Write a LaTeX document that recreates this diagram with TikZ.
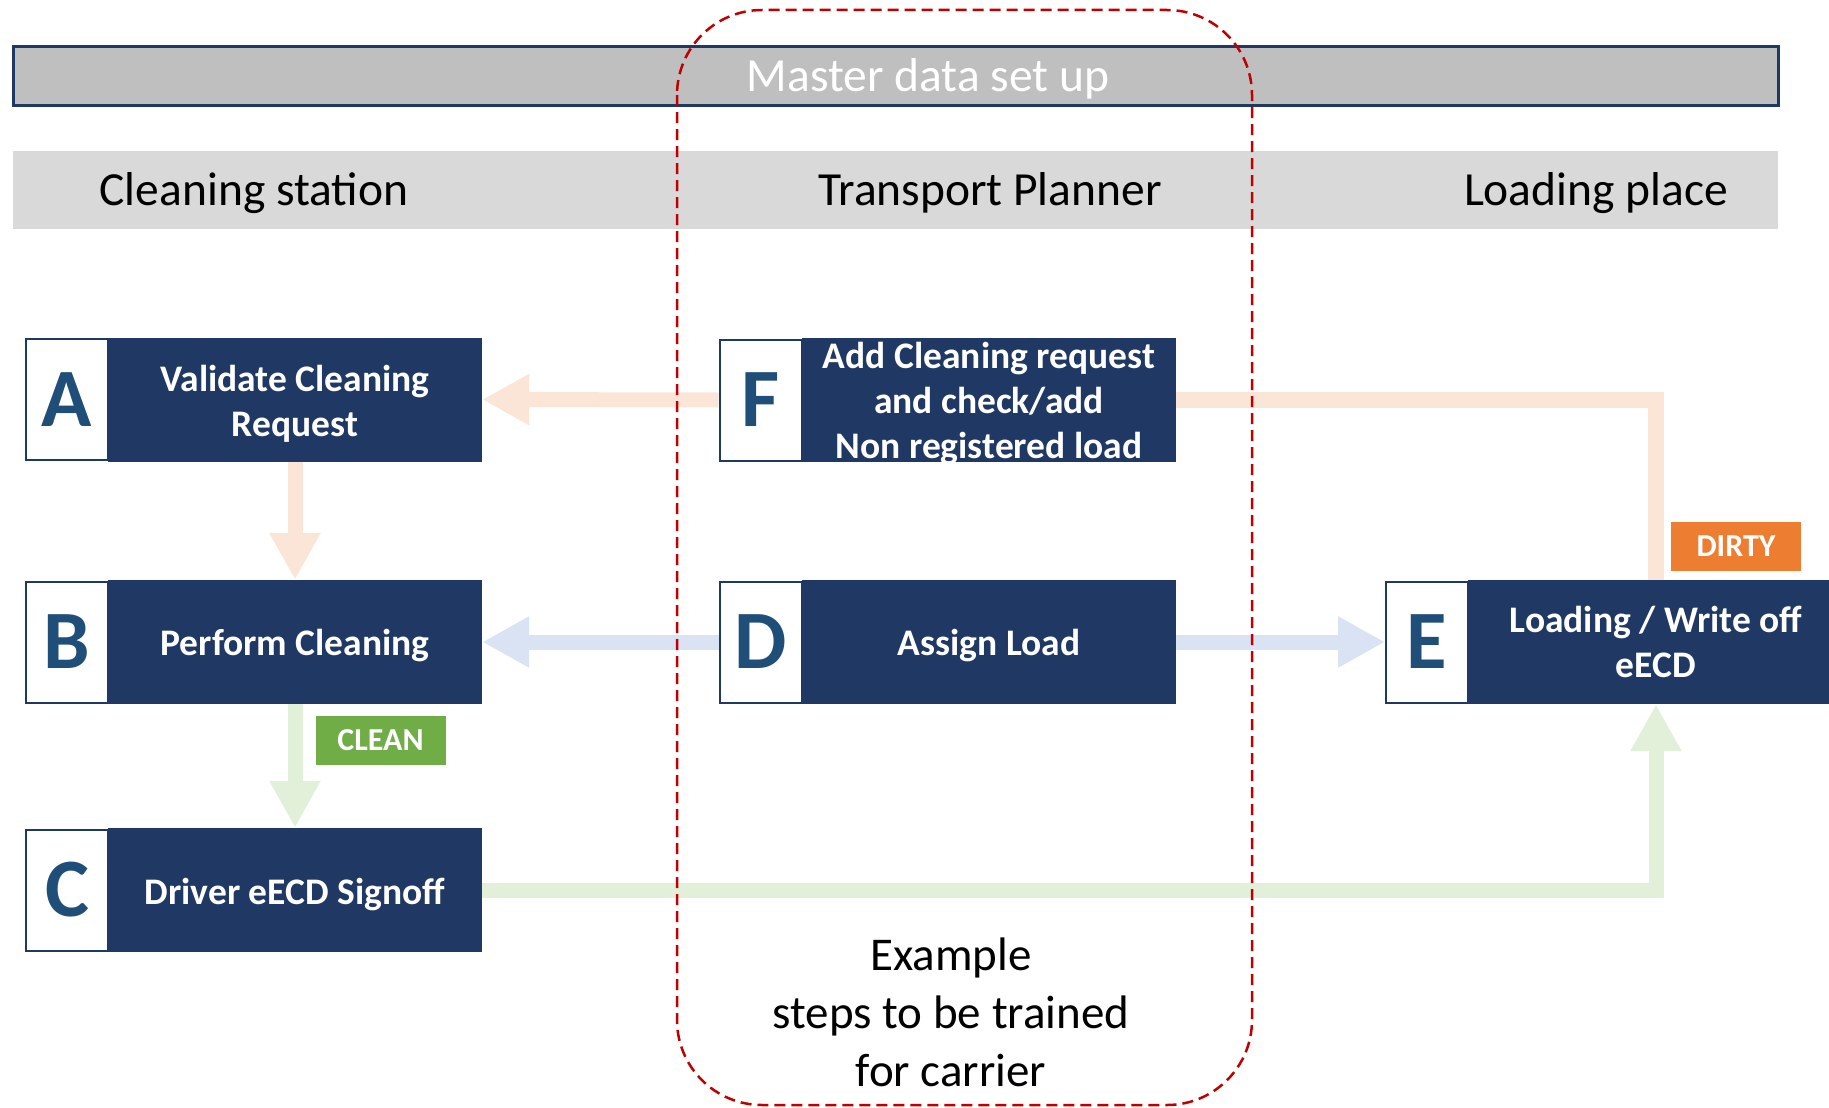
\documentclass[tikz,border=0pt]{standalone}
\usepackage{fontspec}
\setmainfont{Carlito}
\usetikzlibrary{arrows.meta}
\definecolor{navybox}{HTML}{203864}
\definecolor{letterblue}{HTML}{1F4E79}
\definecolor{peach}{HTML}{FBE5D6}
\definecolor{paleblue}{HTML}{DAE3F3}
\definecolor{palegreen}{HTML}{E2F0D9}
\definecolor{cleangreen}{HTML}{70AD47}
\definecolor{dirtyorange}{HTML}{ED7D31}
\definecolor{zonered}{HTML}{C00000}
\definecolor{bargray}{HTML}{BFBFBF}
\definecolor{lanegray}{HTML}{D9D9D9}
\tikzset{
  letterbox/.style={draw=navybox, line width=2pt, fill=white, text=letterblue, inner sep=0pt,
    minimum width=82pt, minimum height=121pt, font=\bfseries\fontsize{83}{83}\selectfont},
  stepbox/.style={fill=navybox, inner sep=0pt, minimum width=374pt, minimum height=124pt},
  steptext/.style={text=white, align=center, yshift=-4pt, font=\bfseries\fontsize{37.5}{45}\selectfont},
  flow/.style={line width=15pt, -{Triangle[width=48pt,length=47pt]}},
  statetag/.style={text=white, inner sep=0pt, minimum width=130pt, minimum height=49pt,
    font=\bfseries\fontsize{32}{32}\selectfont},
  lane/.style={anchor=base, font=\fontsize{47.5}{50}\selectfont}
}

\begin{document}
\begin{tikzpicture}[x=1pt, y=-1pt]
\useasboundingbox (0,0) rectangle (1829,1108);
% header bars
\draw[fill=bargray, draw=navybox, line width=3pt] (13,46.5) rectangle (1778,105.5);
\node[lane, text=white] (master) at (928,92) {Master data set up};
\fill[lanegray] (13,151) rectangle (1778,229);
\node[lane] (station) at (254,205) {Cleaning station};
\node[lane] (planner) at (990,205) {Transport Planner};
\node[lane] (loading) at (1596,205) {Loading place};
% steps
\node[stepbox] (Abox) at (295,399.5) {};
\node[stepbox] (Bbox) at (295,642) {};
\node[stepbox] (Cbox) at (295,890) {};
\node[stepbox] (Fbox) at (989,400) {};
\node[stepbox] (Dbox) at (989,642) {};
\node[stepbox, minimum width=376pt] (Ebox) at (1656,642) {};
\node[steptext] (Atext) at (Abox) {Validate Cleaning\\Request};
\node[steptext] (Btext) at (Bbox) {Perform Cleaning};
\node[steptext] (Ctext) at (Cbox) {Driver eECD Signoff};
\node[steptext] (Ftext) at (Fbox) {Add Cleaning request\\and check/add\\Non registered load};
\node[steptext] (Dtext) at (Dbox) {Assign Load};
\node[steptext, yshift=4pt] (Etext) at (Ebox) {Loading / Write off\\eECD};
\node[letterbox] (A) at (67,399.5) {A};
\node[letterbox] (B) at (67,642) {B};
\node[letterbox] (C) at (67,890) {C};
\node[letterbox] (F) at (760.5,400) {F};
\node[letterbox] (D) at (760.5,642) {D};
\node[letterbox] (E) at (1427,642) {E};
% flows
\draw[flow, peach] (F.west) -- (Abox.east);
\draw[flow, peach] (Abox.south) -- (Bbox.north);
\draw[flow, palegreen] (Bbox.south) -- (Cbox.north);
\draw[flow, paleblue] (D.west) -- (Bbox.east);
\draw[flow, paleblue] (Dbox.east) -- (E.west);
\draw[flow, palegreen] (Cbox.east) -| (Ebox.south);
\draw[peach, line width=16pt] (Ebox.north) |- (Fbox.east);
\node[statetag, fill=cleangreen] (clean) at (380.5,740.5) {CLEAN};
\node[statetag, fill=dirtyorange] (dirty) at (1736,546) {DIRTY};
% training zone
\draw[zonered, line width=2.5pt, dash pattern=on 11pt off 6pt, rounded corners=85pt] (677,10) rectangle (1252,1105);
\node[align=center, font=\fontsize{47}{58}\selectfont] (example) at (951,1012) {Example\\steps to be trained\\for carrier};
\end{tikzpicture}
\end{document}
